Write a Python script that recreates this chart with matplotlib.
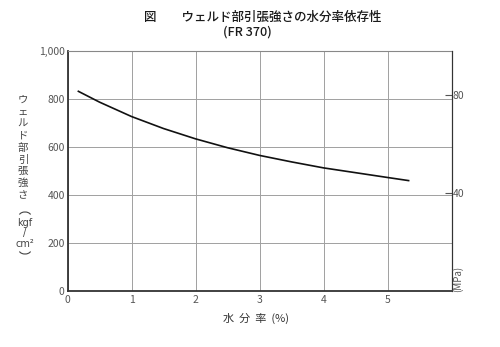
import matplotlib
matplotlib.use("Agg")
import matplotlib.pyplot as plt
from matplotlib.patches import Arc

plt.rcParams['font.family'] = ['Noto Sans CJK JP', 'DejaVu Sans']

# water content (%) vs weld tensile strength (kgf/cm2)
water = [0.17, 0.5, 1.0, 1.5, 2.0, 2.5, 3.0, 3.5, 4.0, 4.5, 5.0, 5.33]
strength = [832, 787, 727, 677, 634, 597, 565, 538, 513, 493, 473, 460]

x_ticks = [0, 1, 2, 3, 4, 5]
y_ticks = [0, 200, 400, 600, 800, 1000]
y_ticklabels = ['0', '200', '400', '600', '800', '1,000']
mpa_ticks = [40, 80]
KGF_PER_MPA = 10.197

title1 = '図　　ウェルド部引張強さの水分率依存性'
title2 = '(FR 370)'
xlabel = '水  分  率  (%)'
ylabel_chars = list('ウェルド部引張強さ')
ylabel_unit = ['kgf', '/', 'cm²']

W, H = 500, 347
fig = plt.figure(figsize=(W / 100, H / 100), dpi=100)
ax = fig.add_axes([67.5 / W, 1 - 291 / H, 384 / W, 240 / H])

ax.plot(water, strength, color='#111111', lw=1.2)

ax.set_xlim(0, 6)
ax.set_ylim(0, 1000)
ax.set_xticks(x_ticks)
ax.set_yticks(y_ticks)
ax.set_yticklabels(y_ticklabels)
ax.grid(True, color='#a0a0a0', lw=0.7)
ax.tick_params(length=0, colors='#555555', labelsize=7.5)
ax.tick_params(axis='y', pad=2)
ax.tick_params(axis='x', pad=3)
for s in ['left', 'bottom']:
    ax.spines[s].set_color('#333333')
    ax.spines[s].set_linewidth(1.3)
ax.spines['top'].set_color('#888888')
ax.spines['right'].set_color('#333333')

ax2 = ax.twinx()
ax2.set_ylim(0, 1000 / KGF_PER_MPA)
ax2.set_yticks(mpa_ticks)
ax2.tick_params(direction='in', length=5, colors='#555555', labelsize=7.5, pad=1)
ax2.spines['right'].set_color('#333333')
for s in ['left', 'top', 'bottom']:
    ax2.spines[s].set_visible(False)

fig.text(263 / W, 1 - 17 / H, title1, ha='center', va='center', fontsize=9,
         color='#1a1a1a', fontweight='medium')
fig.text(247 / W, 1 - 32 / H, title2, ha='center', va='center', fontsize=9,
         color='#1a1a1a', fontweight='medium')
fig.text(256 / W, 1 - 318 / H, xlabel, ha='center', va='center', fontsize=8,
         color='#333333')

# vertical y label, one piece per line
for i, ch in enumerate(ylabel_chars):
    fig.text(23 / W, 1 - (100 + i * 11.9) / H, ch, ha='center', va='center',
             fontsize=7.5, color='#444444')
for ch, yy in zip(ylabel_unit, [223, 233, 244]):
    fig.text(25 / W, 1 - yy / H, ch, ha='center', va='center',
             fontsize=7, color='#444444', family='DejaVu Sans')
# vertical-text brackets around the unit
px = fig.dpi_scale_trans
fig.patches.append(Arc((25 / 100, (H - 216) / 100), 0.12, 0.08, theta1=15, theta2=165,
                       transform=px, color='#444444', lw=0.8))
fig.patches.append(Arc((25 / 100, (H - 250) / 100), 0.12, 0.08, theta1=195, theta2=345,
                       transform=px, color='#444444', lw=0.8))

fig.text(458 / W, 1 - 279 / H, '(MPa)', rotation=90, ha='center', va='center',
         fontsize=7, color='#555555')

fig.savefig('out.png', dpi=100)
